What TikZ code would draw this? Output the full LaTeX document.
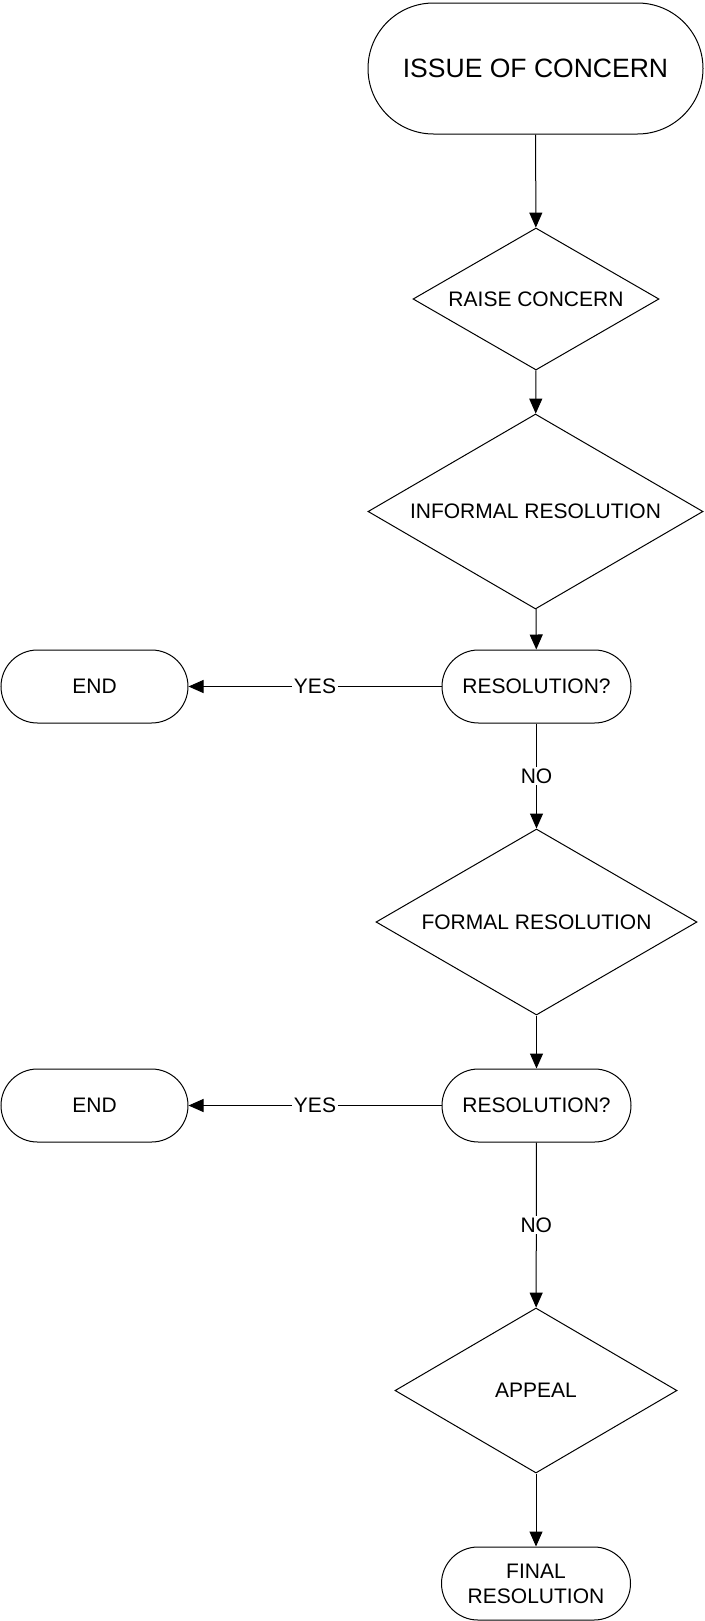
\documentclass[tikz,border=0pt]{standalone}
\usepackage{fontspec}
\setmainfont{Liberation Sans}
\usetikzlibrary{shapes.geometric,arrows.meta}
\begin{document}
\begin{tikzpicture}[x=0.75pt,y=-0.75pt,line width=0.75pt,
  txt/.style={font=\fontsize{15.75}{18.75}\selectfont},
  term/.style={txt,draw,rectangle,rounded corners=27.375pt,minimum width=141.75pt,minimum height=54.75pt,inner sep=0pt,align=center},
  dec/.style={txt,draw,diamond,inner sep=0pt},
  arr/.style={-{Triangle[width=9.75pt,length=11.25pt]}},
  lab/.style={txt,fill=white,inner sep=1.5pt}]
\useasboundingbox (0,0) rectangle (704,1621);
\node[draw,rectangle,rounded corners=49.125pt,minimum width=251.25pt,minimum height=98.25pt,inner sep=0pt,font=\fontsize{19.9}{23}\selectfont] (issue) at (535.5,68.5) {ISSUE OF CONCERN};
\node[dec,aspect=1.732,minimum width=184.5pt,minimum height=106.5pt] (raise) at (536,299) {RAISE CONCERN};
\node[dec,aspect=1.718,minimum width=251.25pt,minimum height=146.25pt] (informal) at (535.5,511.5) {INFORMAL RESOLUTION};
\node[term] (res1) at (536.5,686.5) {RESOLUTION?};
\node[term,minimum width=140.25pt] (end1) at (94.5,686.5) {END};
\node[dec,aspect=1.726,minimum width=240.75pt,minimum height=139.5pt] (formal) at (536.5,922) {FORMAL RESOLUTION};
\node[term] (res2) at (536.5,1105.5) {RESOLUTION?};
\node[term,minimum width=140.25pt] (end2) at (94.5,1105.5) {END};
\node[dec,aspect=1.709,minimum width=211.5pt,minimum height=123.75pt] (appeal) at (536,1390.5) {APPEAL};
\node[term] (final) at (536,1583.5) {FINAL\\RESOLUTION};
\draw[arr] (issue) -- (raise);
\draw[arr] (raise) -- (informal);
\draw[arr] (informal) -- (res1);
\draw[arr] (res1) -- node[lab] {YES} (end1);
\draw[arr] (res1) -- node[lab] {NO} (formal);
\draw[arr] (formal) -- (res2);
\draw[arr] (res2) -- node[lab] {YES} (end2);
\draw[arr] (res2) -- node[lab] {NO} (appeal);
\draw[arr] (appeal) -- (final);
\end{tikzpicture}
\end{document}
